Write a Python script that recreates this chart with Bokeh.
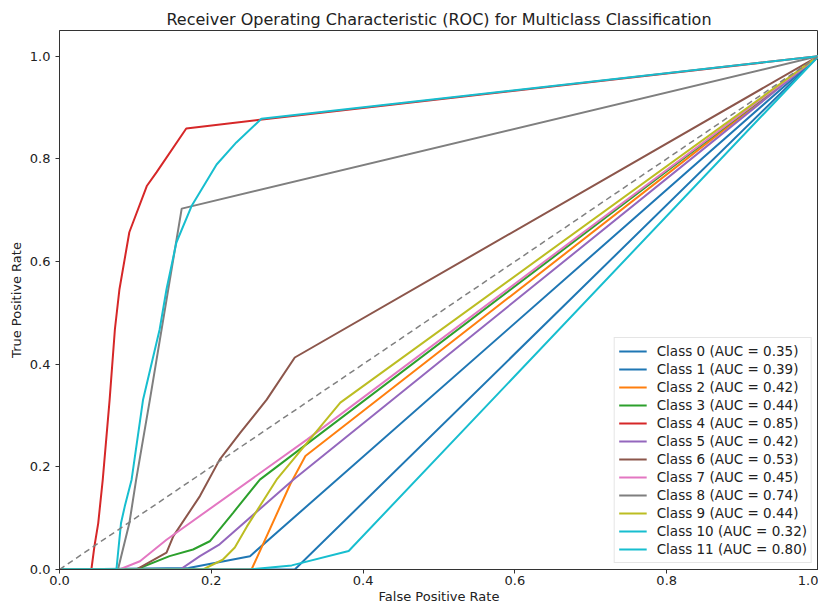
from bokeh.plotting import figure
from bokeh.models import Range1d, FixedTicker, PrintfTickFormatter
from bokeh.embed import file_html
from bokeh.resources import INLINE

# ---- data ----
class_names = ["Class 0", "Class 1", "Class 2", "Class 3", "Class 4", "Class 5",
               "Class 6", "Class 7", "Class 8", "Class 9", "Class 10", "Class 11"]
auc_values = ["0.35", "0.39", "0.42", "0.44", "0.85", "0.42",
              "0.53", "0.45", "0.74", "0.44", "0.32", "0.80"]
colors = ["#1f77b4", "#1f77b4", "#ff7f0e", "#2ca02c", "#d62728", "#9467bd",
          "#8c564b", "#e377c2", "#7f7f7f", "#bcbd22", "#17becf", "#17becf"]

fpr_0 = [0.0, 0.31, 1.0]
tpr_0 = [0.0, 0.0, 1.0]
fpr_1 = [0.0, 0.17, 0.251, 1.0]
tpr_1 = [0.0, 0.003, 0.026, 1.0]
fpr_2 = [0.0, 0.253, 0.304, 0.324, 1.0]
tpr_2 = [0.0, 0.0, 0.166, 0.221, 1.0]
fpr_3 = [0.0, 0.101, 0.145, 0.176, 0.198, 0.229, 0.264, 1.0]
tpr_3 = [0.0, 0.0, 0.026, 0.039, 0.055, 0.111, 0.175, 1.0]
fpr_4 = [0.0, 0.042, 0.046, 0.051, 0.057, 0.066, 0.073, 0.079, 0.092, 0.115, 0.128, 0.167, 0.264, 1.0]
tpr_4 = [0.0, 0.0, 0.045, 0.09, 0.175, 0.33, 0.468, 0.546, 0.657, 0.747, 0.774, 0.859, 0.876, 1.0]
fpr_5 = [0.0, 0.159, 0.185, 0.211, 0.308, 1.0]
tpr_5 = [0.0, 0.0, 0.026, 0.049, 0.175, 1.0]
fpr_6 = [0.0, 0.101, 0.141, 0.15, 0.185, 0.211, 0.238, 0.273, 0.31, 1.0]
tpr_6 = [0.0, 0.0, 0.033, 0.065, 0.143, 0.214, 0.266, 0.331, 0.413, 1.0]
fpr_7 = [0.0, 0.079, 0.106, 0.141, 0.326, 1.0]
tpr_7 = [0.0, 0.0, 0.016, 0.058, 0.253, 1.0]
fpr_8 = [0.0, 0.077, 0.092, 0.101, 0.119, 0.161, 1.0]
tpr_8 = [0.0, 0.0, 0.09, 0.175, 0.33, 0.703, 1.0]
fpr_9 = [0.0, 0.189, 0.215, 0.231, 0.247, 0.286, 0.37, 1.0]
tpr_9 = [0.0, 0.0, 0.019, 0.043, 0.084, 0.175, 0.325, 1.0]
fpr_10 = [0.0, 0.25, 0.306, 0.381, 1.0]
tpr_10 = [0.0, 0.0, 0.008, 0.036, 1.0]
fpr_11 = [0.0, 0.075, 0.081, 0.086, 0.095, 0.11, 0.132, 0.141, 0.154, 0.174, 0.207, 0.233, 0.266, 1.0]
tpr_11 = [0.0, 0.0, 0.09, 0.123, 0.175, 0.33, 0.468, 0.546, 0.637, 0.708, 0.789, 0.832, 0.878, 1.0]

diag_x = [0.0, 1.0]
diag_y = [0.0, 1.0]
x_ticks = [0.0, 0.2, 0.4, 0.6, 0.8, 1.0]
y_ticks = [0.0, 0.2, 0.4, 0.6, 0.8, 1.0]

fprs = [fpr_0, fpr_1, fpr_2, fpr_3, fpr_4, fpr_5, fpr_6, fpr_7, fpr_8, fpr_9, fpr_10, fpr_11]
tprs = [tpr_0, tpr_1, tpr_2, tpr_3, tpr_4, tpr_5, tpr_6, tpr_7, tpr_8, tpr_9, tpr_10, tpr_11]

FONT = "DejaVu Sans"
TXT = "#222222"

p = figure(width=818, height=606, output_backend="svg", toolbar_location=None,
           x_range=Range1d(0, 1.0), y_range=Range1d(0, 1.05),
           title="Receiver Operating Characteristic (ROC) for Multiclass Classification",
           min_border_left=59, min_border_right=0, min_border_top=30, min_border_bottom=36)

p.title.align = "center"
p.title.text_font = FONT
p.title.text_font_size = "16px"
p.title.text_font_style = "normal"
p.title.text_color = TXT
p.title.offset = 0
p.title.standoff = 3

p.xgrid.visible = False
p.ygrid.visible = False
p.outline_line_color = "#333333"
p.outline_line_width = 1
p.background_fill_color = "white"
p.border_fill_color = "white"

for ax, ticks, lab in ((p.xaxis[0], x_ticks, "False Positive Rate"),
                       (p.yaxis[0], y_ticks, "True Positive Rate")):
    ax.ticker = FixedTicker(ticks=ticks)
    ax.formatter = PrintfTickFormatter(format="%.1f")
    ax.axis_label = lab
    ax.axis_label_text_font = FONT
    ax.axis_label_text_font_size = "13px"
    ax.axis_label_text_font_style = "normal"
    ax.axis_label_text_color = TXT
    ax.major_label_text_font = FONT
    ax.major_label_text_font_size = "13px"
    ax.major_label_text_color = TXT
    ax.axis_line_color = "#333333"
    ax.major_tick_line_color = "#333333"
    ax.major_tick_out = 4
    ax.major_tick_in = 0
    ax.minor_tick_line_color = None

p.xaxis.major_label_standoff = 2
p.yaxis.major_label_standoff = 5
p.xaxis.axis_label_standoff = 1
p.yaxis.axis_label_standoff = 3

for i in range(len(class_names)):
    p.line(fprs[i], tprs[i], line_color=colors[i], line_width=2,
           legend_label=f"{class_names[i]} (AUC = {auc_values[i]})")

p.line(diag_x, diag_y, line_color="#808080", line_width=1.5, line_dash="6 4")

lg = p.legend[0]
lg.location = "bottom_right"
lg.margin = 6
lg.padding = 4
lg.spacing = 0
lg.label_height = 18
lg.glyph_height = 18
lg.glyph_width = 28
lg.label_standoff = 10
lg.label_text_font = FONT
lg.label_text_font_size = "13.5px"
lg.label_text_color = TXT
lg.border_line_color = "#cccccc"
lg.border_line_width = 1
lg.background_fill_color = "white"
lg.background_fill_alpha = 0.85

open("out.html", "w").write(file_html(p, INLINE))
